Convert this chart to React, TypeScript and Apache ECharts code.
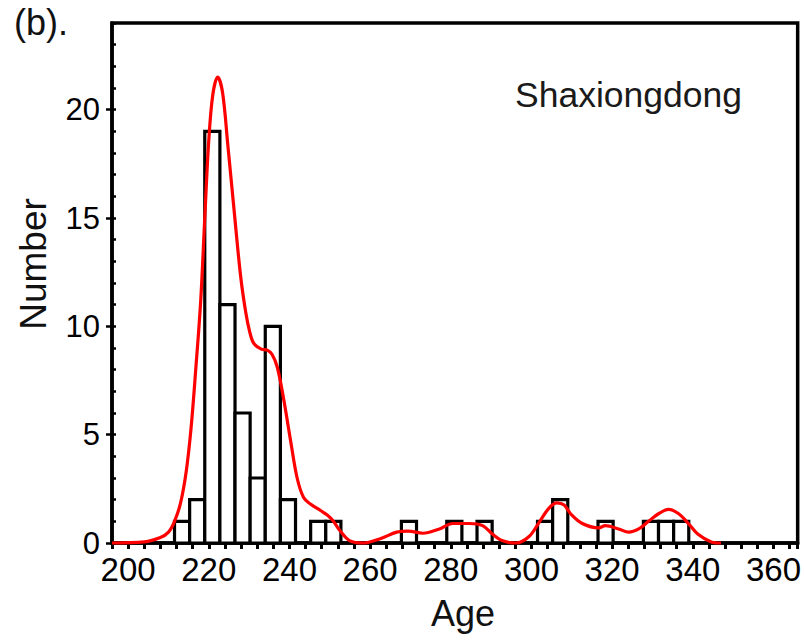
import React, { useEffect, useRef } from "react";
import * as echarts from "echarts";

// Histogram: 34 equal bins starting at binStart (Ma), width binWidth
const binStart = 211.5;
const binWidth = 3.75;
const binCounts = [
  1, 2, 19, 11, 6, 3, 10, 2, 0, 1, 1, 0, 0, 0, 0, 1, 0, 0, 1, 0, 1, 0, 0, 0,
  1, 2, 0, 0, 1, 0, 0, 1, 1, 1,
];

// Kernel density curve (scaled to counts)
const kdeAges = [
  196, 204, 208, 210, 211.5, 213, 214.4, 215.6, 216.8, 218, 219, 220, 221,
  222.2, 223.4, 224.7, 226.3, 227.9, 229.2, 230.2, 231.2, 233, 234.5, 235.7,
  237, 238.6, 240.3, 241.9, 243.5, 245.2, 247.7, 249.3, 250.9, 252.6, 255,
  258.3, 262.5, 266.6, 269.4, 273.1, 277.2, 280.5, 284.6, 287.9, 290.4, 292.9,
  296.2, 299.4, 301.9, 304.3, 306.3, 308.1, 309.7, 312.6, 316.7, 318.3, 321.6,
  324.1, 326.6, 329, 331.5, 334, 336.5, 338.9, 341.3, 344.6, 347,
];
const kdeValues = [
  0, 0.05, 0.25, 0.5, 1.0, 1.85, 3.3, 5.3, 8.1, 11.2, 15.0, 18.6, 20.7, 21.5,
  20.8, 18.4, 15.3, 12.3, 10.6, 9.7, 9.2, 8.95, 8.9, 8.7, 8.1, 6.6, 4.7, 3.0,
  2.1, 1.8, 1.5, 1.3, 1.0, 0.55, 0.1, 0, 0.2, 0.5, 0.55, 0.45, 0.65, 0.9, 0.9,
  0.8, 0.4, 0.1, 0, 0.3, 0.95, 1.6, 1.85, 1.75, 1.35, 0.9, 0.7, 0.8, 0.65, 0.5,
  0.65, 1.0, 1.35, 1.55, 1.35, 0.9, 0.4, 0.05, 0,
];

const xMin = 196;
const xMax = 366;
const xTickStep = 4;
const xLabelStep = 20;
const yMin = 0;
const yMax = 24;
const yMajorStep = 5;
const yMinorStep = 1;

const sampleName = "Shaxiongdong";
const panelLabel = "(b).";
const xTitle = "Age";
const yTitle = "Number";

const FONT = "'Liberation Sans', Arial, Helvetica, sans-serif";

export default function App() {
  const ref = useRef<HTMLDivElement>(null);

  useEffect(() => {
    if (!ref.current) return;
    const chart = echarts.init(ref.current, undefined, { renderer: "svg" });

    const histData = binCounts
      .map((c, i) => [binStart + i * binWidth, binStart + (i + 1) * binWidth, c])
      .filter((d) => d[2] > 0);

    const option: any = {
      animation: false,
      backgroundColor: "#fff",
      textStyle: { fontFamily: FONT },
      grid: {
        left: 112,
        top: 23,
        width: 686,
        height: 520,
        show: true,
        borderColor: "#000",
        borderWidth: 3.5,
        backgroundColor: "transparent",
      },
      xAxis: {
        type: "value",
        min: xMin,
        max: xMax,
        interval: xTickStep,
        axisLine: { show: true, lineStyle: { color: "#000", width: 3.5 } },
        axisTick: { show: true, length: 6, lineStyle: { color: "#000", width: 3 } },
        splitLine: { show: false },
        axisLabel: {
          show: true,
          margin: 10,
          color: "#000",
          fontSize: 33,
          fontFamily: FONT,
          interval: 0,
          formatter: (v: number) => (Math.round(v) % xLabelStep === 0 ? String(Math.round(v)) : ""),
        },
      },
      yAxis: [
        {
          type: "value",
          position: "left",
          min: yMin,
          max: yMax,
          interval: yMajorStep,
          axisLine: { show: true, lineStyle: { color: "#000", width: 3.5 } },
          axisTick: { show: true, length: 6, lineStyle: { color: "#000", width: 2.5 } },
          splitLine: { show: false },
          axisLabel: {
            margin: 12,
            color: "#000",
            fontSize: 31,
            fontFamily: FONT,
            showMaxLabel: false,
            formatter: (v: number) => (v % yMajorStep === 0 ? String(v) : ""),
          },
        },
        {
          type: "value",
          position: "left",
          min: yMin,
          max: yMax,
          interval: yMinorStep,
          axisLine: { show: false },
          axisTick: { show: true, inside: true, length: 4, lineStyle: { color: "#000", width: 2.5 } },
          splitLine: { show: false },
          axisLabel: { show: false },
        },
      ],
      series: [
        {
          type: "custom",
          xAxisIndex: 0,
          yAxisIndex: 0,
          data: histData,
          encode: { x: [0, 1], y: 2 },
          z: 2,
          renderItem: (params: any, api: any) => {
            const p0 = api.coord([api.value(0), api.value(2)]);
            const p1 = api.coord([api.value(1), 0]);
            return {
              type: "rect",
              shape: { x: p0[0], y: p0[1], width: p1[0] - p0[0], height: p1[1] - p0[1] },
              style: { fill: "#fff", stroke: "#000", lineWidth: 3.2 },
            };
          },
        },
        {
          type: "line",
          xAxisIndex: 0,
          yAxisIndex: 0,
          data: kdeAges.map((a, i) => [a, kdeValues[i]]),
          smooth: 0.35,
          showSymbol: false,
          symbol: "none",
          clip: false,
          z: 5,
          lineStyle: { color: "#ff0000", width: 3.2 },
        },
      ],
      graphic: [
        {
          type: "text",
          left: 14,
          top: 4,
          style: { text: panelLabel, fontSize: 36, fontFamily: FONT, fill: "#111" },
        },
        {
          type: "text",
          x: 515,
          y: 95,
          style: {
            text: sampleName,
            fontSize: 35.5,
            fontFamily: FONT,
            fill: "#1a1a1a",
            align: "left",
            verticalAlign: "middle",
          },
        },
        {
          type: "text",
          x: 463,
          y: 613,
          style: {
            text: xTitle,
            fontSize: 36,
            fontFamily: FONT,
            fill: "#111",
            align: "center",
            verticalAlign: "middle",
          },
        },
        {
          type: "text",
          x: 33,
          y: 264,
          rotation: Math.PI / 2,
          style: {
            text: yTitle,
            fontSize: 37,
            fontFamily: FONT,
            fill: "#111",
            align: "center",
            verticalAlign: "middle",
          },
        },
      ],
    };

    chart.setOption(option);
    return () => chart.dispose();
  }, []);

  return (
    <div
      ref={ref}
      style={{ position: "fixed", left: 0, top: 0, width: 804, height: 641, background: "#fff" }}
    />
  );
}
